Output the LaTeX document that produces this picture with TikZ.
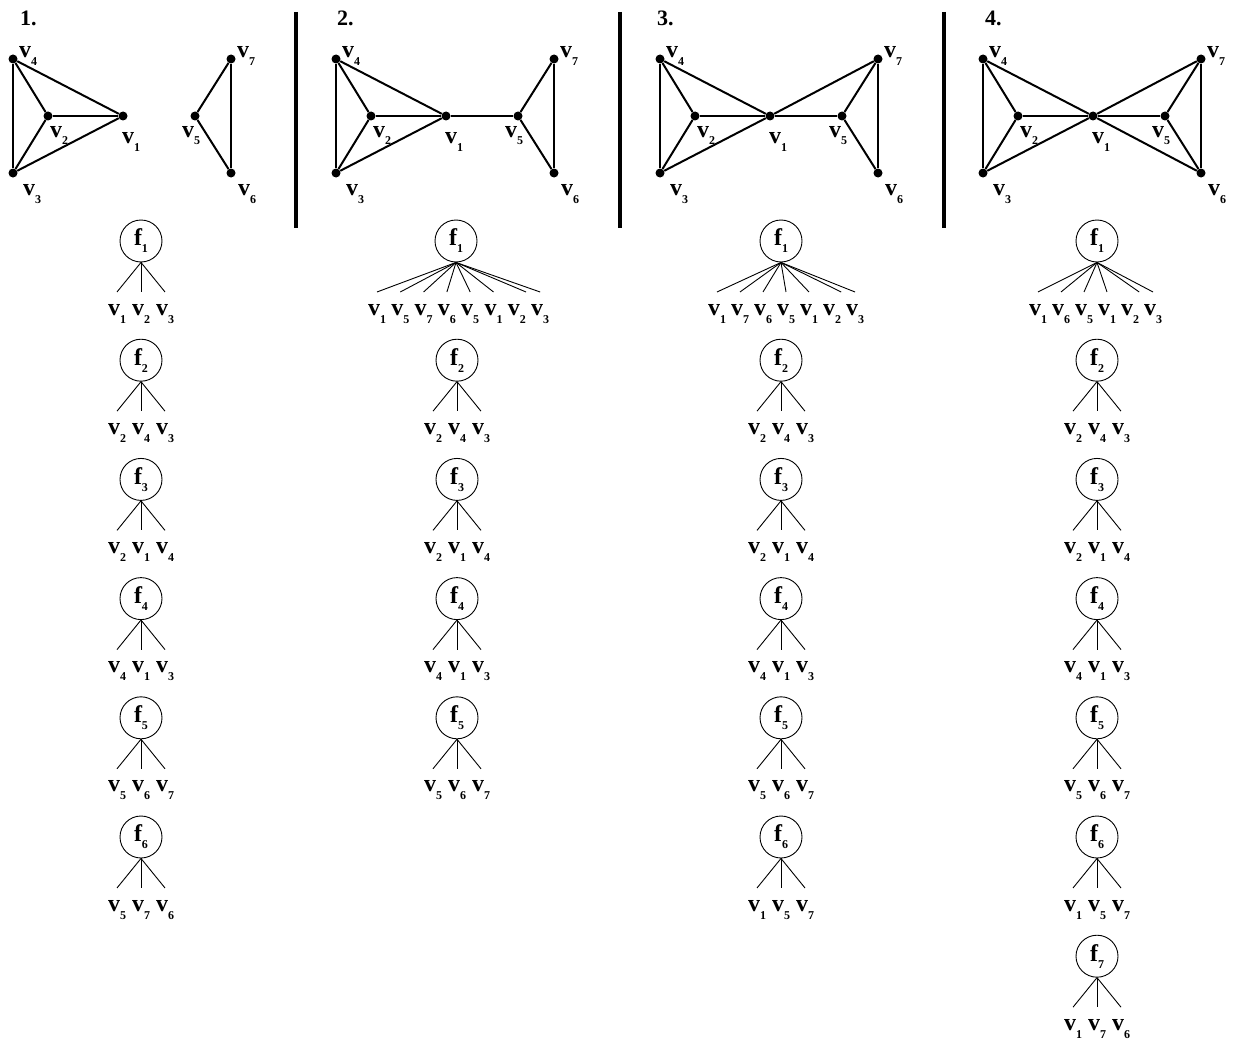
\documentclass[tikz,border=0pt]{standalone}
\usepackage{fontspec}
\setmainfont{Liberation Serif}
\usetikzlibrary{positioning}

\newcommand{\vl}[1]{{\fontsize{24}{24}\selectfont\bfseries v}\raisebox{-8pt}{\fontsize{12}{12}\selectfont\bfseries #1}}
\newcommand{\fl}[1]{{\fontsize{24}{24}\selectfont\bfseries f}\raisebox{-7pt}{\fontsize{12}{12}\selectfont\bfseries #1}}

\begin{document}
\begin{tikzpicture}[x=1pt, y=-1pt,
        vert/.style={circle, fill=black, inner sep=0pt, minimum size=9pt},
        edge/.style={line width=2pt},
        vlab/.style={inner sep=0pt, anchor=base west},
        face/.style={circle, draw, line width=0.9pt, inner sep=0pt, minimum size=42pt},
        leaf/.style={inner sep=0pt, outer ysep=12pt, anchor=base},
        twig/.style={line width=0.9pt},
        bar/.style={line width=4.5pt},
        title/.style={inner sep=0pt, anchor=base west, font=\fontsize{22}{22}\selectfont\bfseries},
    ]
        \useasboundingbox (0,0) rectangle (1236,1046);

        % Separators
        \draw[bar] (296,12) -- (296,228);
        \draw[bar] (620,12) -- (620,228);
        \draw[bar] (944,12) -- (944,228);

        % Graphs, one per panel
        \foreach \p/\dx/\tx in {1/0/20, 2/323/14, 3/647/10, 4/970/15} {
            \begin{scope}[xshift=\dx pt]
                \node[title] (t\p) at (\tx,26) {\p.};
                \node[vert] (g\p-1) at (123,116) {};
                \node[vert] (g\p-2) at (48,116) {};
                \node[vert] (g\p-3) at (13,173) {};
                \node[vert] (g\p-4) at (13,59) {};
                \node[vert] (g\p-5) at (195,116) {};
                \node[vert] (g\p-6) at (231,173) {};
                \node[vert] (g\p-7) at (231,59) {};
                \node[vlab, xshift=-1pt, yshift=-27pt] (l\p-1) at (g\p-1) {\vl{1}};
                \node[vlab, xshift=2pt, yshift=-21pt] (l\p-2) at (g\p-2) {\vl{2}};
                \node[vlab, xshift=10pt, yshift=-22pt] (l\p-3) at (g\p-3) {\vl{3}};
                \node[vlab, xshift=6pt, yshift=1pt] (l\p-4) at (g\p-4) {\vl{4}};
                \node[vlab, xshift=-13pt, yshift=-21pt] (l\p-5) at (g\p-5) {\vl{5}};
                \node[vlab, xshift=7pt, yshift=-22pt] (l\p-6) at (g\p-6) {\vl{6}};
                \node[vlab, xshift=6pt, yshift=1pt] (l\p-7) at (g\p-7) {\vl{7}};
            \end{scope}
        }

        % Edges
        \foreach \p in {1,...,4}
            \foreach \a/\b in {4/3, 4/2, 4/1, 2/1, 2/3, 3/1, 5/7, 5/6, 7/6}
                \draw[edge] (g\p-\a) -- (g\p-\b);
        \foreach \p in {2,3,4} \draw[edge] (g\p-1) -- (g\p-5);
        \foreach \p in {3,4} \draw[edge] (g\p-1) -- (g\p-7);
        \draw[edge] (g4-1) -- (g4-6);

        % Face trees with three vertices
        \foreach \p/\x/\k/\a/\b/\c in {
                1/141/1/1/2/3, 1/141/2/2/4/3, 1/141/3/2/1/4, 1/141/4/4/1/3, 1/141/5/5/6/7, 1/141/6/5/7/6,
                2/457/2/2/4/3, 2/457/3/2/1/4, 2/457/4/4/1/3, 2/457/5/5/6/7,
                3/781/2/2/4/3, 3/781/3/2/1/4, 3/781/4/4/1/3, 3/781/5/5/6/7, 3/781/6/1/5/7,
                4/1097/2/2/4/3, 4/1097/3/2/1/4, 4/1097/4/4/1/3, 4/1097/5/5/6/7, 4/1097/6/1/5/7, 4/1097/7/1/7/6} {
            \node[face] (f\p-\k) at (\x, 121.8+119.2*\k) {\fl{\k}};
            \node[leaf] (f\p-\k-1) at (\x-24, 195.8+119.2*\k) {\vl{\a}};
            \node[leaf] (f\p-\k-2) at (\x, 195.8+119.2*\k) {\vl{\b}};
            \node[leaf] (f\p-\k-3) at (\x+24, 195.8+119.2*\k) {\vl{\c}};
            \foreach \j in {1,2,3} \draw[twig] (f\p-\k.south) -- (f\p-\k-\j.north);
        }

        % Outer face, panel 2
        \node[face] (f2-1) at (456,241) {\fl{1}};
        \foreach \n [count=\i] in {1,5,7,6,5,1,2,3}
            \node[leaf] (f2-1-\i) at (377+23.3*\i-23.3, 315) {\vl{\n}};
        \foreach \i in {1,2,3,4,5,6,8} \draw[twig] (f2-1.south) -- (f2-1-\i.north);
        \draw[twig] (f2-1.south) -- (f2-1-7.north east);

        % Outer face, panel 3
        \node[face] (f3-1) at (781,241) {\fl{1}};
        \foreach \n [count=\i] in {1,7,6,5,1,2,3}
            \node[leaf] (f3-1-\i) at (717+23*\i-23, 315) {\vl{\n}};
        \foreach \i in {1,2,3,4,5,7} \draw[twig] (f3-1.south) -- (f3-1-\i.north);
        \draw[twig] (f3-1.south) -- (f3-1-6.north east);

        % Outer face, panel 4
        \node[face] (f4-1) at (1097,241) {\fl{1}};
        \foreach \n [count=\i] in {1,6,5,1,2,3}
            \node[leaf] (f4-1-\i) at (1038+23*\i-23, 315) {\vl{\n}};
        \foreach \i in {1,2,3,4,6} \draw[twig] (f4-1.south) -- (f4-1-\i.north);
        \draw[twig] (f4-1.south) -- (f4-1-5.north east);
\end{tikzpicture}
\end{document}
